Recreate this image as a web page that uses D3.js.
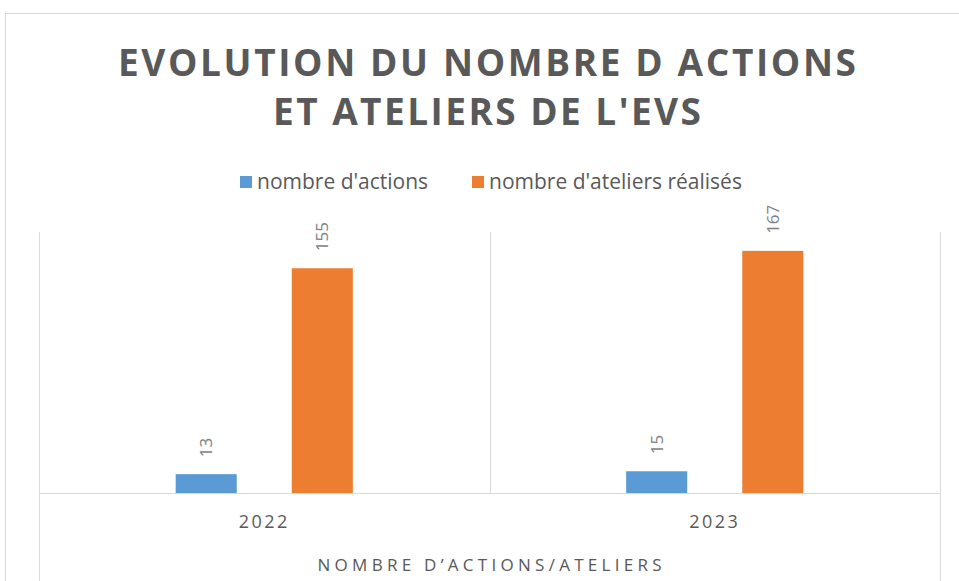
<!DOCTYPE html>
<html>
<head>
<meta charset="utf-8">
<script src="https://cdn.jsdelivr.net/npm/d3@7"></script>
<style>
  body { margin: 0; background: #fff; }
  text { font-family: "Open Sans", sans-serif; }
</style>
</head>
<body>
<div class="chart"></div>
<script>
// data
var years = ["2022", "2023"];
var seriesNames = ["nombre d'actions", "nombre d'ateliers réalisés"];
var actions = [13, 15];
var ateliers = [155, 167];
var colors = ["#5b9bd5", "#ed7d31"];

var W = 959, H = 581;
var plot = {left: 39, right: 940, top: 232, bottom: 493};

var svg = d3.select(".chart")
    .append("svg")
    .attr("width", W)
    .attr("height", H);

// chart border
svg.append("rect")
    .attr("x", 5.5).attr("y", 13.5)
    .attr("width", W + 20).attr("height", H + 20)
    .attr("fill", "none")
    .attr("stroke", "#d9d9d9");

// title
var titleLines = ["EVOLUTION DU NOMBRE D ACTIONS", "ET ATELIERS DE L'EVS"];
var titleLen = [738, 428];
svg.selectAll(".title")
  .data(titleLines)
  .enter()
  .append("text")
    .attr("class", "title")
    .attr("x", 487)
    .attr("y", function(d, i) { return 76 + i * 49; })
    .attr("text-anchor", "middle")
    .attr("textLength", function(d, i) { return titleLen[i]; })
    .attr("lengthAdjust", "spacing")
    .attr("font-size", "37px")
    .attr("font-weight", "bold")
    .attr("fill", "#595959")
    .text(function(d) { return d; });

// legend
var legendX = [240, 472];
var legend = svg.selectAll(".legend")
  .data(seriesNames)
  .enter()
  .append("g")
    .attr("class", "legend")
    .attr("transform", function(d, i) { return "translate(" + legendX[i] + ",176)"; });
legend.append("rect")
    .attr("width", 12).attr("height", 12)
    .attr("fill", function(d, i) { return colors[i]; });
legend.append("text")
    .attr("x", 17).attr("y", 13)
    .attr("font-size", "21px")
    .attr("fill", "#595959")
    .text(function(d) { return d; });

// scales
var x0 = d3.scaleBand()
    .domain(years)
    .range([plot.left, plot.right]);

var x1 = d3.scaleBand()
    .domain(seriesNames)
    .range([0, x0.bandwidth()])
    .paddingInner(0.474)
    .paddingOuter(1.177);

var y = d3.scaleLinear()
    .domain([0, 180])
    .range([plot.bottom, plot.top]);

// category separators
var grid = svg.append("g").attr("stroke", "#d9d9d9").attr("stroke-width", 1);
years.forEach(function(yr, i) {
  var xl = Math.round(x0(yr)) + 0.5;
  grid.append("line")
      .attr("x1", xl).attr("x2", xl)
      .attr("y1", plot.top).attr("y2", i === 0 ? H : plot.bottom);
});
grid.append("line")
    .attr("x1", plot.right + 0.5).attr("x2", plot.right + 0.5)
    .attr("y1", plot.top).attr("y2", H);

// bars
var rows = years.map(function(yr, i) {
  return {year: yr, values: [actions[i], ateliers[i]]};
});

var groups = svg.selectAll(".group")
  .data(rows)
  .enter()
  .append("g")
    .attr("class", "group")
    .attr("transform", function(d) { return "translate(" + x0(d.year) + ",0)"; });

groups.selectAll("rect")
  .data(function(d) { return d.values.map(function(v, i) { return {name: seriesNames[i], value: v, i: i}; }); })
  .enter()
  .append("rect")
    .attr("x", function(d) { return x1(d.name); })
    .attr("y", function(d) { return y(d.value); })
    .attr("width", x1.bandwidth())
    .attr("height", function(d) { return y(0) - y(d.value); })
    .attr("fill", function(d) { return colors[d.i]; });

// data labels (rotated)
groups.selectAll(".lbl")
  .data(function(d) { return d.values.map(function(v, i) { return {name: seriesNames[i], value: v}; }); })
  .enter()
  .append("text")
    .attr("class", "lbl")
    .attr("transform", function(d) {
      return "translate(" + (x1(d.name) + x1.bandwidth() / 2 + 6) + "," + (y(d.value) - 17) + ") rotate(-90)";
    })
    .attr("font-size", "17px")
    .attr("fill", "#7f7f7f")
    .text(function(d) { return d.value; });

// baseline
svg.append("line")
    .attr("x1", plot.left).attr("x2", plot.right + 1)
    .attr("y1", plot.bottom + 0.5).attr("y2", plot.bottom + 0.5)
    .attr("stroke", "#d9d9d9");

// category labels
svg.selectAll(".cat")
  .data(years)
  .enter()
  .append("text")
    .attr("class", "cat")
    .attr("x", function(d) { return x0(d) + x0.bandwidth() / 2; })
    .attr("y", 528)
    .attr("text-anchor", "middle")
    .attr("font-size", "18px")
    .attr("letter-spacing", "2.5px")
    .attr("fill", "#595959")
    .text(function(d) { return d; });

// axis title
svg.append("text")
    .attr("x", (plot.left + plot.right) / 2)
    .attr("y", 571)
    .attr("text-anchor", "middle")
    .attr("font-size", "17px")
    .attr("textLength", 344)
    .attr("lengthAdjust", "spacing")
    .attr("fill", "#595959")
    .text("NOMBRE D’ACTIONS/ATELIERS");
</script>
</body>
</html>
